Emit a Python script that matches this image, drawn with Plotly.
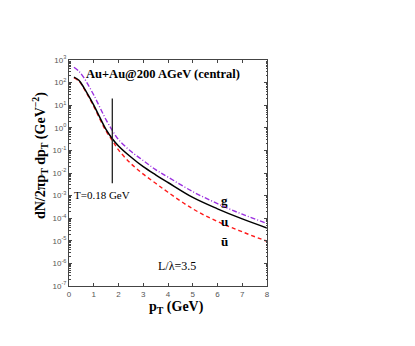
import plotly.graph_objects as go

pT = [0.2, 0.4, 0.6, 0.8, 1.0, 1.25, 1.5, 1.75, 2.0, 2.5, 3.0, 3.5, 4.0, 5.0, 6.0, 7.0, 8.0]
g_vals = [479, 316, 166, 70.8, 28.2, 7.94, 2.24, 0.76, 0.30, 0.091, 0.0355, 0.0141,
          6.6e-3, 1.5e-3, 4.4e-4, 1.5e-4, 5.9e-5]
u_vals = [174, 126, 60, 25.1, 10.0, 2.8, 0.83, 0.33, 0.158, 0.051, 0.019, 8.3e-3,
          3.8e-3, 8.3e-4, 2.6e-4, 9.3e-5, 3.7e-5]
ubar_vals = [162, 117, 56, 22.9, 8.9, 2.4, 0.71, 0.275, 0.105, 0.026, 8.9e-3, 3.5e-3,
             1.4e-3, 2.6e-4, 7.1e-5, 2.5e-5, 9.5e-6]
vline_x = [1.75, 1.75]
vline_y = [20, 3.5e-3]
ytick_exp = [-7, -6, -5, -4, -3, -2, -1, 0, 1, 2, 3]
xtick_vals = [0, 1, 2, 3, 4, 5, 6, 7, 8]

serif = "Liberation Serif"
sans = "Liberation Sans"

fig = go.Figure()
fig.add_trace(go.Scatter(x=pT, y=ubar_vals, mode="lines", line_shape="spline",
                         line=dict(color="#ff1a1a", width=1.4, dash="4px,3px")))
fig.add_trace(go.Scatter(x=pT, y=g_vals, mode="lines", line_shape="spline",
                         line=dict(color="#9b30e0", width=1.4, dash="5px,2px,1px,2px")))
fig.add_trace(go.Scatter(x=pT, y=u_vals, mode="lines", line_shape="spline",
                         line=dict(color="black", width=1.5)))
fig.add_trace(go.Scatter(x=vline_x, y=vline_y, mode="lines",
                         line=dict(color="#222", width=1.3)))

axcol = "#444"
fig.update_xaxes(range=[0, 8], tickvals=xtick_vals, ticks="inside", ticklen=3,
                 mirror="ticks", showline=True, linecolor=axcol, linewidth=1,
                 tickcolor=axcol, showgrid=False, zeroline=False,
                 tickfont=dict(family=sans, size=8, color="#555"))
fig.update_yaxes(type="log", range=[-7, 3],
                 tickvals=[10 ** e for e in ytick_exp],
                 ticktext=["10<sup>%d</sup>" % e for e in ytick_exp],
                 ticks="inside", ticklen=3, mirror="ticks", showline=True,
                 linecolor=axcol, linewidth=1, tickcolor=axcol, showgrid=False,
                 zeroline=False, tickfont=dict(family=sans, size=8, color="#555"),
                 minor=dict(ticks="inside", ticklen=1.5, tickcolor=axcol, dtick="D1",
                            showgrid=False))

ann = [
    dict(x=3.8, y=2.36, text="<b>Au+Au@200 AGeV (central)</b>", showarrow=False,
         font=dict(family=serif, size=12.5, color="black")),
    dict(x=0.12, y=-2.98, text="T=0.18 GeV", showarrow=False, xanchor="left",
         font=dict(family=serif, size=11, color="black")),
    dict(x=4.35, y=-6.12, text="L/λ=3.5", showarrow=False,
         font=dict(family=serif, size=12, color="black")),
    dict(x=6.3, y=-3.2, text="<b>g</b>", showarrow=False,
         font=dict(family=serif, size=13, color="black")),
    dict(x=6.3, y=-4.13, text="<b>u</b>", showarrow=False,
         font=dict(family=serif, size=13, color="black")),
    dict(x=6.3, y=-5.01, text="<b>ū</b>", showarrow=False,
         font=dict(family=serif, size=13, color="black")),
    dict(x=0, y=0.575, xref="paper", yref="paper", xshift=-29, textangle=-90,
         xanchor="center", yanchor="middle",
         text="<b>dN/2πp<sub>T</sub> dp<sub>T</sub> (GeV<sup>−2</sup>)</b>",
         showarrow=False, font=dict(family=serif, size=14, color="black")),
    dict(x=0.545, y=0, xref="paper", yref="paper", yshift=-21,
         xanchor="center", yanchor="middle",
         text="<b>p<sub>T</sub> (GeV)</b>", showarrow=False,
         font=dict(family=serif, size=14, color="black")),
]
fig.update_layout(width=415, height=346, showlegend=False,
                  margin=dict(l=60.6, r=156, t=51.5, b=68),
                  paper_bgcolor="white", plot_bgcolor="white",
                  annotations=ann)
fig.write_html("out.html")
